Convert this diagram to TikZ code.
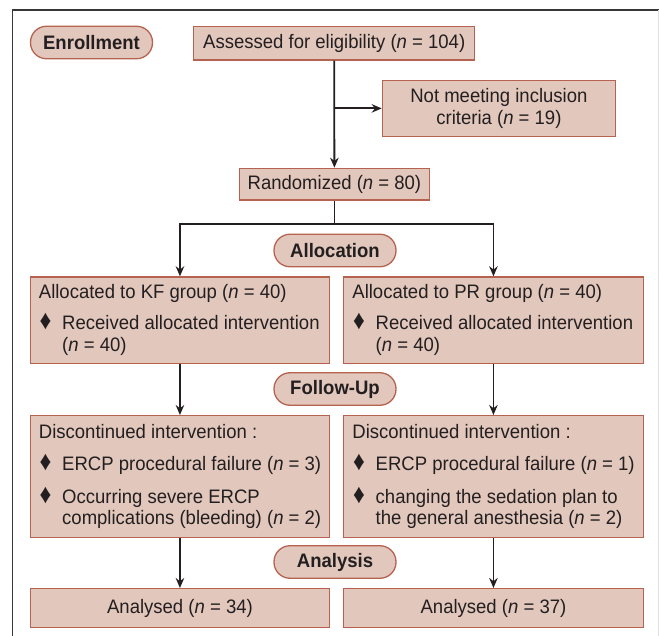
\documentclass[tikz,border=0pt]{standalone}
\usepackage{graphicx}
\usepackage{fontspec}
\setmainfont{Liberation Sans}[FakeStretch=0.95]
\usetikzlibrary{arrows.meta}
\definecolor{boxfill}{RGB}{226,199,188}
\definecolor{boxline}{RGB}{182,98,80}
\definecolor{ink}{RGB}{35,31,32}
\definecolor{framec}{RGB}{55,55,55}
\newcommand{\bul}{\scalebox{1.25}[1.4]{♦}}
\begin{document}
\begin{tikzpicture}[x=1pt,y=-1pt,
  font=\fontsize{19.5}{22}\selectfont, text=ink,
  box/.style={draw=boxline, fill=boxfill, line width=1.4pt, inner sep=0pt, anchor=north west},
  stage/.style={draw=boxline, fill=boxfill, line width=1.3pt, rounded corners=16pt,
                font=\fontsize{19.5}{22}\selectfont\bfseries, inner sep=0pt,
                minimum width=122pt, minimum height=32.5pt},
  lbl/.style={anchor=base west, inner sep=0pt},
  arr/.style={draw=ink, line width=1.8pt, -{Stealth[length=10pt,width=8.5pt]}},
  ln/.style={draw=ink, line width=1.8pt}]
\useasboundingbox (0,0) rectangle (659,636);
% frame
\coordinate (fbl) at (12.5,636);
\coordinate (ftl) at (12.5,10);
\coordinate (ftr) at (659,10);
\draw[framec, line width=1.6pt] (fbl) -- (ftl) -- (ftr);
\draw[black!12, line width=0.8pt] (658.5,10) -- (658.5,636);

% stage labels
\node[stage] (enr) at (91.5,42.5) {Enrollment};
\node[stage] (alloc) at (335,250.5) {Allocation};
\node[stage] (follow) at (335,389) {Follow-Up};
\node[stage] (anal) at (335,562) {Analysis};

% top boxes
\node[box, minimum width=281pt, minimum height=33.3pt] (assess) at (193,26)
  {Assessed for eligibility (\textit{n} = 104)};
\node[box, minimum width=233pt, minimum height=56pt, align=center] (notmeet) at (381.7,79.7)
  {Not meeting inclusion\\criteria (\textit{n} = 19)};
\node[box, minimum width=190pt, minimum height=31.8pt] (rand) at (238.7,167.7)
  {Randomized (\textit{n} = 80)};

% group boxes
\node[box, minimum width=299.5pt, minimum height=86.4pt] (kf) at (29.5,276.3) {};
\node[box, minimum width=299.5pt, minimum height=86.4pt] (pr) at (343,276.3) {};
\node[box, minimum width=299.5pt, minimum height=121.7pt] (dkf) at (29.5,415) {};
\node[box, minimum width=299.5pt, minimum height=121.7pt] (dpr) at (343,415) {};
\node[box, minimum width=299.5pt, minimum height=39pt] (akf) at (29.5,588)
  {Analysed (\textit{n} = 34)};
\node[box, minimum width=299.5pt, minimum height=39pt] (apr) at (343,588)
  {Analysed (\textit{n} = 37)};

% KF allocation text
\node[lbl] (kf1) at (38.7,298.3) {Allocated to KF group (\textit{n} = 40)};
\node[lbl] (kfb) at (39.5,329.8) {\bul};
\node[lbl] (kf2) at (62,329.8) {Received allocated intervention};
\node[lbl] (kf3) at (62,352) {(\textit{n} = 40)};
% PR allocation text
\node[lbl] (pr1) at (352.2,298.3) {Allocated to PR group (\textit{n} = 40)};
\node[lbl] (prb) at (353,329.8) {\bul};
\node[lbl] (pr2) at (375.5,329.8) {Received allocated intervention};
\node[lbl] (pr3) at (375.5,352) {(\textit{n} = 40)};

% KF discontinued text
\node[lbl] (dk1) at (38.7,438.3) {Discontinued intervention :};
\node[lbl] (dkb1) at (39.5,470.3) {\bul};
\node[lbl] (dk2) at (62,470.3) {ERCP procedural failure (\textit{n} = 3)};
\node[lbl] (dkb2) at (39.5,503) {\bul};
\node[lbl] (dk3) at (62,503) {Occurring severe ERCP};
\node[lbl] (dk4) at (62,524.8) {complications (bleeding) (\textit{n} = 2)};
% PR discontinued text
\node[lbl] (dp1) at (352.2,438.3) {Discontinued intervention :};
\node[lbl] (dpb1) at (353,470.3) {\bul};
\node[lbl] (dp2) at (375.5,470.3) {ERCP procedural failure (\textit{n} = 1)};
\node[lbl] (dpb2) at (353,503) {\bul};
\node[lbl] (dp3) at (375.5,503) {changing the sedation plan to};
\node[lbl] (dp4) at (375.5,524.8) {the general anesthesia (\textit{n} = 2)};

% connectors
\draw[arr] (assess.south) -- (rand.north);
\coordinate (br) at (assess.south |- notmeet.west);
\draw[arr] (br) -- (notmeet.west);
\coordinate (spy) at (0,224.3);
\coordinate (sp) at (rand.south |- spy);
\draw[ln] (rand.south) -- (sp);
\draw[arr, line join=miter] (sp) -| (kf.north);
\draw[arr, line join=miter] (sp) -| (pr.north);
\draw[arr] (kf.south) -- (dkf.north);
\draw[arr] (pr.south) -- (dpr.north);
\draw[arr] (dkf.south) -- (akf.north);
\draw[arr] (dpr.south) -- (apr.north);
\end{tikzpicture}
\end{document}
